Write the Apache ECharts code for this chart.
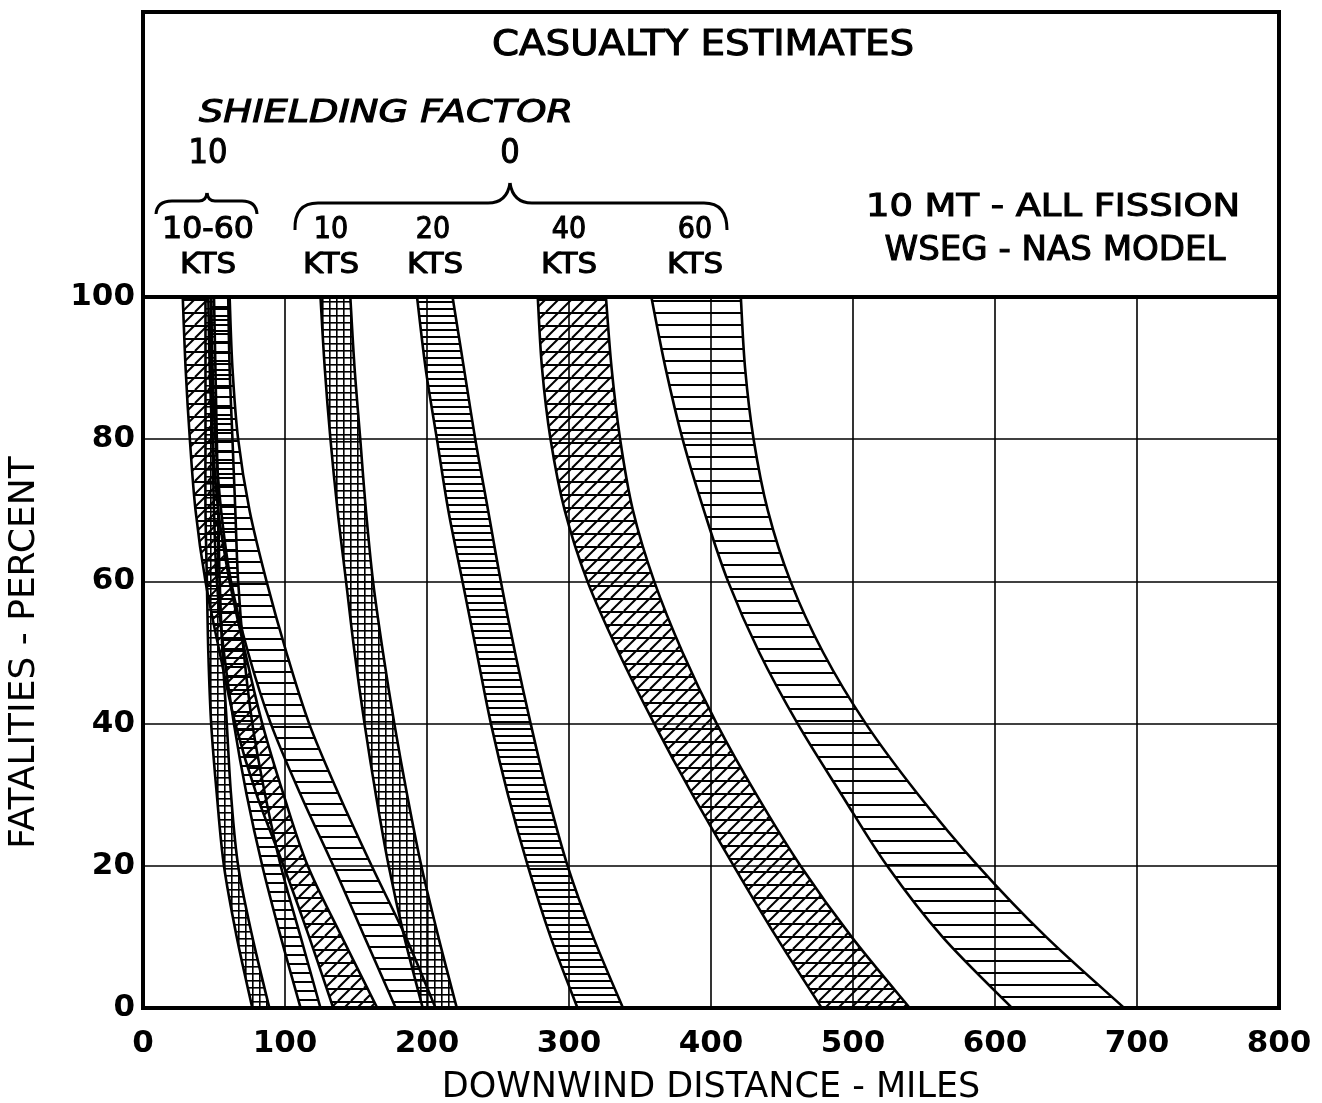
<!DOCTYPE html>
<html>
<head>
<meta charset="utf-8">
<title>Casualty Estimates</title>
<script src="https://cdn.jsdelivr.net/npm/echarts@6/dist/echarts.min.js"></script>
<style>
  html, body { margin: 0; padding: 0; background: #fff; }
  #chart { width: 1322px; height: 1103px; }
</style>
</head>
<body>
<div id="chart"></div>
<script>
// ---- data ---------------------------------------------------------------
// Fatality levels (percent) at which every band edge is read
const pctLevels = [100, 90, 80, 70, 60, 50, 40, 30, 20, 10, 0];

// Shielding factor 10 (all wind speeds), downwind distance in miles
const sf10Kts10Near = [44, 44, 44, 44, 45, 46, 48, 52, 57, 66, 77];
const sf10Kts10Far  = [50, 51, 52, 53, 54, 56, 59, 62, 67, 77, 89];
const sf10Kts20Near = [48, 48, 49, 50, 52, 57, 64, 73, 84, 97, 111];
const sf10Kts20Far  = [60, 61, 63, 65, 67, 71, 77, 86, 97, 111, 125];
const sf10Kts40Near = [28, 30, 33, 37, 44, 54, 65, 80, 99, 117, 134];
const sf10Kts40Far  = [46, 47, 49, 53, 61, 72, 84, 99, 116, 140, 165];
const sf10Kts60Near = [48, 49, 51, 55, 62, 74, 90, 111, 134, 156, 178];
const sf10Kts60Far  = [61, 63, 67, 75, 87, 101, 117, 138, 161, 185, 206];

// Shielding factor 0, downwind distance in miles
const sf0Kts10Near = [125, 128, 132, 137, 143, 149, 156, 164, 173, 184, 197];
const sf0Kts10Far  = [146, 149, 153, 157, 162, 169, 177, 186, 196, 208, 221];
const sf0Kts20Near = [193, 199, 207, 215, 225, 235, 245, 257, 271, 287, 306];
const sf0Kts20Far  = [218, 226, 234, 243, 252, 262, 273, 285, 299, 317, 338];
const sf0Kts40Near = [278, 281, 287, 297, 313, 335, 360, 387, 416, 446, 478];
const sf0Kts40Far  = [326, 330, 336, 345, 360, 380, 404, 432, 463, 499, 540];
const sf0Kts60Near = [358, 368, 380, 395, 412, 434, 461, 492, 524, 563, 612];
const sf0Kts60Far  = [421, 424, 430, 440, 456, 479, 509, 546, 588, 636, 691];

// Axis ticks
const xTicks = [0, 100, 200, 300, 400, 500, 600, 700, 800];
const yTicks = [0, 20, 40, 60, 80, 100];

// Header texts
const titleText = 'CASUALTY ESTIMATES';
const shieldingTitle = 'SHIELDING FACTOR';
const shieldingValues = ['10', '0'];
const windSpeeds = ['10-60', '10', '20', '40', '60'];
const windUnit = 'KTS';
const modelLines = ['10 MT - ALL FISSION', 'WSEG - NAS MODEL'];
const xName = 'DOWNWIND DISTANCE - MILES';
const yName = 'FATALITIES - PERCENT';

// ---- layout -------------------------------------------------------------
const W = 1322, H = 1103;
const GRID = { left: 143, right: 43, top: 297, bottom: 95 };
const HEADER_TOP = 12;
const plotL = GRID.left, plotR = W - GRID.right, plotT = GRID.top, plotB = H - GRID.bottom;
const FONT = "'DejaVu Sans', 'Liberation Sans', sans-serif";
const LETTER_FONT = "'Liberation Sans Narrow', 'DejaVu Sans Condensed', 'DejaVu Sans', sans-serif";

// ---- hatch fills --------------------------------------------------------
function makePattern(w, h, draw) {
  const c = document.createElement('canvas');
  c.width = w; c.height = h;
  const g = c.getContext('2d');
  g.fillStyle = '#000';
  g.strokeStyle = '#000';
  draw(g, w, h);
  return { image: c, repeat: 'repeat' };
}
const hatch = {
  grid: makePattern(7, 7, (g, w, h) => { g.fillRect(0, 0, w, 1.6); g.fillRect(0, 0, 1.6, h); }),
  fine: makePattern(8, 7, (g, w) => { g.fillRect(0, 0, w, 2); }),
  medium: makePattern(8, 9, (g, w) => { g.fillRect(0, 0, w, 2); }),
  wide: makePattern(8, 12, (g, w) => { g.fillRect(0, 0, w, 2); }),
  wide11: makePattern(8, 11, (g, w) => { g.fillRect(0, 0, w, 2); }),
  slant: makePattern(13, 13, (g, w, h) => {
    g.fillRect(0, 0, w, 2);
    g.lineWidth = 2;
    [-w, 0, w].forEach(o => { g.beginPath(); g.moveTo(o, h); g.lineTo(o + w, 0); g.stroke(); });
  })
};

const bands = [
  { name: 'SF10 40 KTS', near: sf10Kts40Near, far: sf10Kts40Far, fill: hatch.slant },
  { name: 'SF10 10 KTS', near: sf10Kts10Near, far: sf10Kts10Far, fill: hatch.grid },
  { name: 'SF10 20 KTS', near: sf10Kts20Near, far: sf10Kts20Far, fill: hatch.medium },
  { name: 'SF10 60 KTS', near: sf10Kts60Near, far: sf10Kts60Far, fill: hatch.wide11 },
  { name: 'SF0 10 KTS', near: sf0Kts10Near, far: sf0Kts10Far, fill: hatch.grid },
  { name: 'SF0 20 KTS', near: sf0Kts20Near, far: sf0Kts20Far, fill: hatch.fine },
  { name: 'SF0 40 KTS', near: sf0Kts40Near, far: sf0Kts40Far, fill: hatch.slant },
  { name: 'SF0 60 KTS', near: sf0Kts60Near, far: sf0Kts60Far, fill: hatch.wide }
];

// Cubic Bezier segments through the points (Catmull-Rom tangents)
function curveSegments(pts) {
  let d = '';
  for (let i = 0; i < pts.length - 1; i++) {
    const p0 = pts[i - 1] || pts[i], p1 = pts[i], p2 = pts[i + 1], p3 = pts[i + 2] || pts[i + 1];
    const c1x = p1[0] + (p2[0] - p0[0]) / 6, c1y = p1[1] + (p2[1] - p0[1]) / 6;
    const c2x = p2[0] - (p3[0] - p1[0]) / 6, c2y = p2[1] - (p3[1] - p1[1]) / 6;
    d += ' C' + c1x.toFixed(2) + ',' + c1y.toFixed(2) + ' ' + c2x.toFixed(2) + ',' + c2y.toFixed(2) +
         ' ' + p2[0].toFixed(2) + ',' + p2[1].toFixed(2);
  }
  return d;
}
function openCurve(pts) {
  return 'M' + pts[0][0].toFixed(2) + ',' + pts[0][1].toFixed(2) + curveSegments(pts);
}

function bandSeries(band) {
  return {
    type: 'custom',
    name: band.name,
    coordinateSystem: 'cartesian2d',
    silent: true,
    clip: true,
    data: pctLevels.map((p, k) => [band.near[k], p, band.far[k]]),
    encode: { x: [0, 2], y: 1 },
    renderItem: function (params, api) {
      if (params.dataIndex !== 0) return null;
      const nearPts = pctLevels.map((p, k) => api.coord([band.near[k], p]));
      const farPts = pctLevels.map((p, k) => api.coord([band.far[k], p]));
      const farRev = farPts.slice().reverse();
      const outline = openCurve(nearPts) + ' L' + farRev[0][0].toFixed(2) + ',' + farRev[0][1].toFixed(2) +
                      curveSegments(farRev) + ' Z';
      return {
        type: 'group',
        children: [
          { type: 'path', shape: { pathData: outline }, style: { fill: band.fill, stroke: null } },
          { type: 'path', shape: { pathData: openCurve(nearPts) },
            style: { fill: 'none', stroke: '#000', lineWidth: 2.6 } },
          { type: 'path', shape: { pathData: openCurve(farPts) },
            style: { fill: 'none', stroke: '#000', lineWidth: 2.6 } }
        ]
      };
    }
  };
}

// ---- header annotations -------------------------------------------------
const measureCtx = document.createElement('canvas').getContext('2d');
function fitScale(text, font, width) {
  measureCtx.font = font;
  return width / measureCtx.measureText(text).width;
}
function headerText(text, cx, cy, size, width, italic) {
  const font = (italic ? 'italic ' : '') + size + 'px ' + LETTER_FONT;
  return {
    type: 'text', x: cx, y: cy, z: 100,
    scaleX: width ? fitScale(text, font, width) : 1,
    style: {
      text: text, font: font, fill: '#000', stroke: '#000', lineWidth: 1,
      align: 'center', verticalAlign: 'middle'
    }
  };
}
const braceStyle = { stroke: '#000', lineWidth: 3, fill: 'none' };
function q(x1, y1, cx, cy, x2, y2) {
  return { type: 'bezierCurve', z: 100, shape: { x1, y1, cpx1: cx, cpy1: cy, x2, y2 }, style: braceStyle };
}
function seg(x1, y1, x2, y2) {
  return { type: 'line', z: 100, shape: { x1, y1, x2, y2 }, style: braceStyle };
}

const ktsX = [208, 331, 433, 569, 695];
const graphics = [
  // outer frame of header and plot
  { type: 'rect', z: 100, shape: { x: plotL, y: HEADER_TOP, width: plotR - plotL, height: plotB - HEADER_TOP },
    style: { fill: 'none', stroke: '#000', lineWidth: 4 } },
  { type: 'line', z: 100, shape: { x1: plotL, y1: plotT, x2: plotR, y2: plotT },
    style: { stroke: '#000', lineWidth: 4 } },
  headerText(titleText, 703, 46, 36, 422),
  headerText(shieldingTitle, 386, 114, 32, 374, true),
  headerText(shieldingValues[0], 208, 154, 34),
  headerText(shieldingValues[1], 510, 154, 34),
  headerText(modelLines[0], 1053, 208, 32, 374),
  headerText(modelLines[1], 1055, 251, 34, 341),
  // small brace over the shielding-10 group
  q(156, 214, 157, 201, 172, 201), seg(172, 201, 199, 201),
  q(199, 201, 206, 201, 207, 193), q(207, 193, 208, 201, 215, 201),
  seg(215, 201, 242, 201), q(242, 201, 256, 201, 257, 214),
  // large brace over the shielding-0 group
  q(295, 230, 294, 203, 318, 203), seg(318, 203, 488, 203),
  q(488, 203, 507, 203, 510, 183), q(510, 183, 513, 203, 532, 203),
  seg(532, 203, 704, 203), q(704, 203, 727, 203, 727, 230)
];
windSpeeds.forEach((s, i) => {
  graphics.push(headerText(s, ktsX[i], 230, 30, i === 0 ? 92 : null));
  graphics.push(headerText(windUnit, ktsX[i] + (i === 2 ? 2 : 0), 266, 28, 56));
});

// ---- chart --------------------------------------------------------------
const chart = echarts.init(document.getElementById('chart'), null, { renderer: 'canvas' });
const labelStyle = { color: '#000', fontFamily: FONT, fontSize: 31, fontWeight: 'bold' };
chart.setOption({
  animation: false,
  backgroundColor: '#fff',
  grid: {
    left: GRID.left, right: GRID.right, top: GRID.top, bottom: GRID.bottom,
    show: false, containLabel: false, outerBoundsMode: 'none'
  },
  xAxis: {
    type: 'value',
    min: xTicks[0], max: xTicks[xTicks.length - 1], interval: xTicks[1] - xTicks[0],
    name: xName, nameLocation: 'middle', nameGap: 62,
    nameTextStyle: { color: '#000', fontFamily: FONT, fontSize: 35 },
    axisLine: { show: true, onZero: false, lineStyle: { color: '#000', width: 4 } },
    axisTick: { show: false },
    axisLabel: Object.assign({ margin: 20 }, labelStyle),
    splitLine: { show: true, lineStyle: { color: '#000', width: 1.6 } }
  },
  yAxis: {
    type: 'value',
    min: yTicks[0], max: yTicks[yTicks.length - 1], interval: yTicks[1] - yTicks[0],
    name: yName, nameLocation: 'middle', nameGap: 100, nameRotate: 90,
    nameTextStyle: { color: '#000', fontFamily: FONT, fontSize: 36 },
    axisLine: { show: true, onZero: false, lineStyle: { color: '#000', width: 4 } },
    axisTick: { show: false },
    axisLabel: Object.assign({ margin: 8 }, labelStyle),
    splitLine: { show: true, lineStyle: { color: '#000', width: 1.6 } }
  },
  series: bands.map(bandSeries),
  graphic: graphics
});
</script>
</body>
</html>
